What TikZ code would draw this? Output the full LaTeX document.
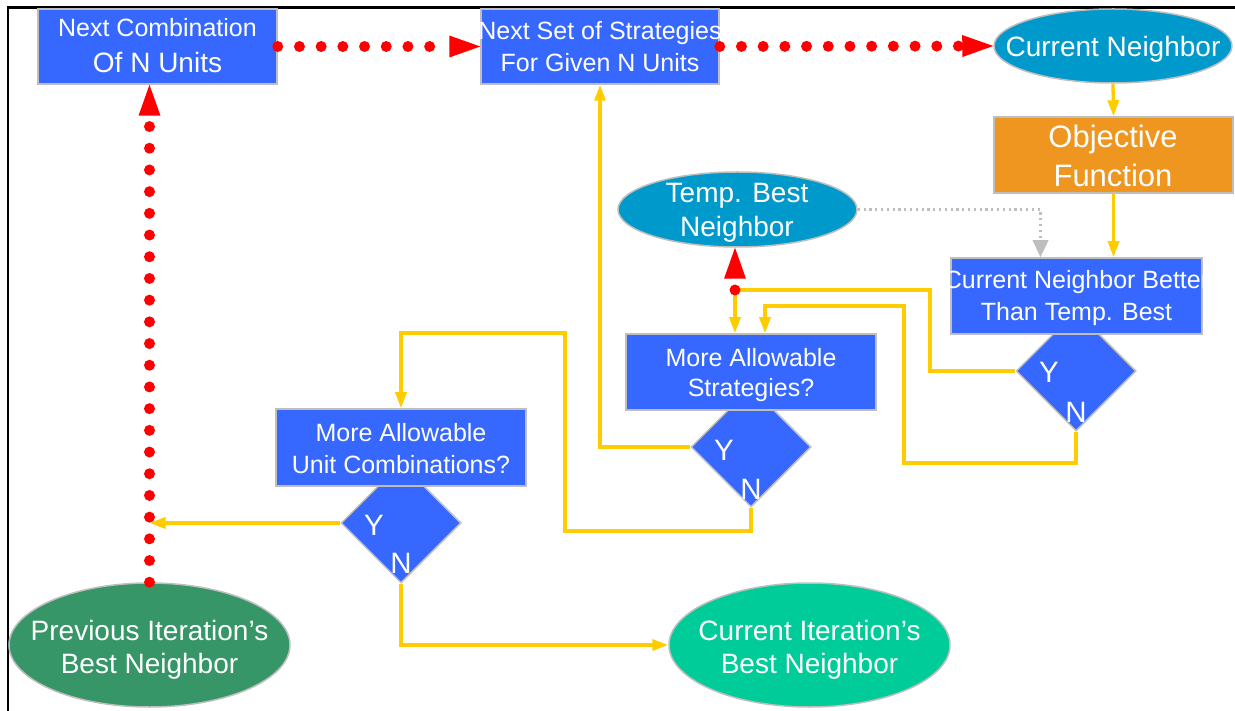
\documentclass[tikz,border=0pt]{standalone}
\usepackage{fontspec}
\setmainfont{Liberation Sans}
\usetikzlibrary{shapes.geometric,arrows.meta,calc}

\definecolor{boxblue}{RGB}{54,104,255}
\definecolor{ovalblue}{RGB}{0,153,204}
\definecolor{funcorange}{RGB}{238,150,32}
\definecolor{prevgreen}{RGB}{54,150,104}
\definecolor{curgreen}{RGB}{0,204,153}
\definecolor{flowyellow}{RGB}{255,204,0}
\definecolor{linkred}{RGB}{255,0,0}
\definecolor{edgegray}{RGB}{190,190,190}

\tikzset{
  flowbox/.style={rectangle, draw=edgegray, line width=1.5pt, fill=boxblue, inner sep=0pt},
  decision/.style={diamond, draw=edgegray, line width=1.5pt, fill=boxblue,
    minimum width=120pt, minimum height=120pt, inner sep=0pt},
  oval/.style={ellipse, draw=edgegray, line width=1.5pt, inner sep=0pt},
  lbl/.style={text=white, anchor=base, inner sep=0pt},
  tA/.style={lbl, font=\fontsize{25}{30}\selectfont},
  tB/.style={lbl, font=\fontsize{28}{33}\selectfont},
  tC/.style={lbl, font=\fontsize{31}{36}\selectfont},
  tYN/.style={lbl, font=\fontsize{29.5}{34}\selectfont},
  flowline/.style={draw=flowyellow, line width=3.3pt},
  flow/.style={flowline, -{Triangle[length=16pt,width=11pt]}},
  redlink/.style={draw=linkred, line width=11pt, line cap=round,
    dash pattern=on 0pt off 21.7pt,
    -{Triangle[length=31pt,width=22pt,line width=0pt]}},
  graylink/.style={draw=edgegray, line width=2.2pt, dash pattern=on 2.2pt off 3.6pt,
    -{Triangle[length=17pt,width=16pt,line width=0pt]}},
}

\begin{document}
\begin{tikzpicture}[x=1pt,y=-1pt]
\useasboundingbox (0,0) rectangle (1235,711);

% open frame along the top and left edges
\draw[line width=2.5pt] (8,711) -- (8,7.5) -- (1235,7.5);

% decisions (their upper tips sit under the question boxes)
\node[decision] (D1) at (1076,371) {};
\node[decision] (D2) at (751,447) {};
\node[decision] (D3) at (401,523) {};

% process boxes
\node[flowbox, minimum width=239pt, minimum height=75pt] (NC) at (157.5,46.5) {};
\node[flowbox, minimum width=238pt, minimum height=75pt] (NS) at (600,46.5) {};
\node[flowbox, fill=funcorange, minimum width=239pt, minimum height=76pt] (OF) at (1113.5,155) {};
\node[flowbox, minimum width=251pt, minimum height=76pt] (CNB) at (1076.5,296) {};
\node[flowbox, minimum width=250pt, minimum height=76pt] (MAS) at (751,372) {};
\node[flowbox, minimum width=250pt, minimum height=77pt] (MAUC) at (401,447.5) {};

% ovals
\node[oval, fill=ovalblue, minimum width=238pt, minimum height=74pt] (CN) at (1113,46) {};
\node[oval, fill=ovalblue, minimum width=239pt, minimum height=75pt] (TB) at (737.5,209.5) {};
\node[oval, fill=prevgreen, minimum width=281pt, minimum height=124pt] (PI) at (149.5,645) {};
\node[oval, fill=curgreen, minimum width=281pt, minimum height=124pt] (CI) at (809.5,645) {};

% routing points
\coordinate (J) at (735,290);
\coordinate (e1) at (904,463);
\coordinate (e2) at (765,306);
\coordinate (g1) at (565,531);
\coordinate (g2) at (401,333);
\coordinate (yend) at (PI.north |- D3.west);

% yellow flow
\draw[flow] (CN.south) -- (OF.north);
\draw[flow] (OF.south) -- (OF.south |- CNB.north);
\draw[flowline] (D1.west) -| (930,290) -- (J);
\draw[flow] (J) -- (J |- MAS.north);
\draw[flow] (D1.south) |- (e1) |- (e2) -- (e2 |- MAS.north);
\draw[flow] (D2.west) -| (NS.south);
\draw[flow] (D2.south) |- (g1) |- (g2) -- (MAUC.north);
\draw[flow] (D3.west) -- (yend);
\draw[flow] (D3.south) |- (CI.west);

% grey comparison link
\draw[graylink] (TB.east) -| ($(CNB.north)+(-36,0)$);

% red iteration links
\draw[redlink] (PI.north) -- (PI.north |- NC.south);
\draw[redlink] (NC.east) -- (NS.west);
\draw[redlink] (NS.east) -- (CN.west);
\draw[redlink] (J) -- (J |- TB.south);

% labels
\node[tA] (NC-a) at (157.5,37) {Next Combination};
\node[tB] (NC-b) at (157.5,73) {Of N Units};
\node[tA] (NS-a) at (600,40) {Next Set of Strategies};
\node[tA] (NS-b) at (600,72) {For Given N Units};
\node[tB] (CN-a) at (1113,57) {Current Neighbor};
\node[tC] (OF-a) at (1113,148) {Objective};
\node[tC] (OF-b) at (1113,187) {Function};
\node[tB] (TB-a) at (737,203) {Temp. Best};
\node[tB] (TB-b) at (737,237) {Neighbor};
\node[tA] (CNB-a) at (1076.5,289) {Current Neighbor Better};
\node[tA] (CNB-b) at (1076.5,321) {Than Temp. Best};
\node[tA] (MAS-a) at (751,367) {More Allowable};
\node[tA] (MAS-b) at (751,397) {Strategies?};
\node[tA] (MAUC-a) at (401,442) {More Allowable};
\node[tA] (MAUC-b) at (401,473) {Unit Combinations?};
\node[tYN] (D1-y) at (1049,383) {Y};
\node[tYN] (D1-n) at (1076,422) {N};
\node[tYN] (D2-y) at (724,460) {Y};
\node[tYN] (D2-n) at (751,499) {N};
\node[tYN] (D3-y) at (374,535) {Y};
\node[tYN] (D3-n) at (401,573) {N};
\node[tB] (PI-a) at (149.5,640) {Previous Iteration’s};
\node[tB] (PI-b) at (149.5,673) {Best Neighbor};
\node[tB] (CI-a) at (809.5,640) {Current Iteration’s};
\node[tB] (CI-b) at (809.5,673) {Best Neighbor};
\end{tikzpicture}
\end{document}
